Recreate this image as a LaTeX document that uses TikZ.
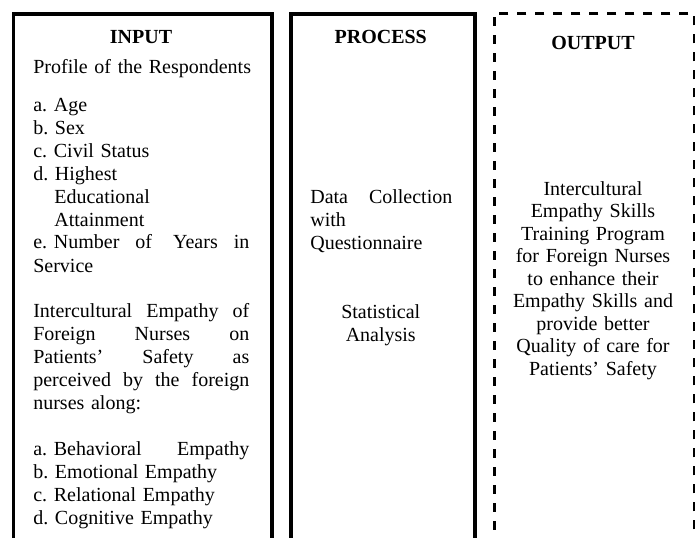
\documentclass[tikz,border=0pt]{standalone}
\usepackage{fontspec}
\setmainfont{Liberation Serif}
\setlength{\parindent}{0pt}
\frenchspacing
\hyphenpenalty=10000

% one line of a justified paragraph, spread to the column width
\newcommand{\spreadline}[1]{\makebox[\hsize][l]{#1}}

\begin{document}
\begin{tikzpicture}[x=0.6pt,y=-0.6pt,
  panel/.style={rectangle,draw,line width=2.4pt,inner sep=0pt,
                minimum height=330pt,anchor=north west},
  outpanel/.style={panel,line width=1.5pt,dash pattern=on 5.4pt off 5.4pt},
  head/.style={font=\fontsize{12}{13.8}\selectfont\bfseries,inner sep=0pt,
               anchor=base},
  body/.style={font=\fontsize{12}{13.8}\selectfont,inner sep=0pt,
               anchor=base west,align=left},
  mid/.style={body,anchor=base,align=center}]
\useasboundingbox (0,0) rectangle (700,538);
\clip (0,0) rectangle (700,538);

% the three columns, running on past the lower edge
\node[panel,minimum width=155.4pt] (inbox) at (11.5,12) {};
\node[panel,minimum width=110.7pt] (procbox) at (288.5,12) {};
\node[outpanel,minimum width=120pt] (outbox) at (493,12) {};

% input column
\node[head] (intitle) at (141,43) {INPUT};
\node[body,text width=129.6pt] (inlist) at (33,73) {%
  \mbox{Profile of the Respondents}\\[9pt]
  a. Age\\
  b. Sex\\
  c. Civil Status\\
  d. Highest\\
  \hspace*{12.6pt}Educational\\
  \hspace*{12.6pt}Attainment\\
  \spreadline{e. Number\hspace{9.6pt}of\hfill Years\hspace{9.6pt}in}\\
  Service\\[13.8pt]
  \spreadline{Intercultural\hfill Empathy\hfill of}\\
  \spreadline{Foreign\hfill Nurses\hfill on}\\
  \spreadline{Patients’\hfill Safety\hfill as}\\
  \spreadline{perceived\hfill by\hfill the\hfill foreign}\\
  nurses along:\\[13.8pt]
  \spreadline{a. Behavioral\hfill Empathy}\\
  b. Emotional Empathy\\
  c. Relational Empathy\\
  d. Cognitive Empathy};

% process column
\node[head] (proctitle) at (380.75,43) {PROCESS};
\node[body,text width=85.2pt] (collect) at (310,203) {%
  \spreadline{Data\hfill Collection}\\
  with\\
  Questionnaire};
\node[mid,text width=100pt] (stats) at (380.75,318) {Statistical\\ Analysis};

% output column
\node[head] (outtitle) at (593,49) {OUTPUT};
\node[mid,text width=112pt,font=\fontsize{12}{13.5}\selectfont]
  (program) at (593,195) {%
  Intercultural\\
  Empathy Skills\\
  Training Program\\
  for Foreign Nurses\\
  to enhance their\\
  Empathy Skills and\\
  provide better\\
  Quality of care for\\
  Patients’ Safety};
\end{tikzpicture}
\end{document}
